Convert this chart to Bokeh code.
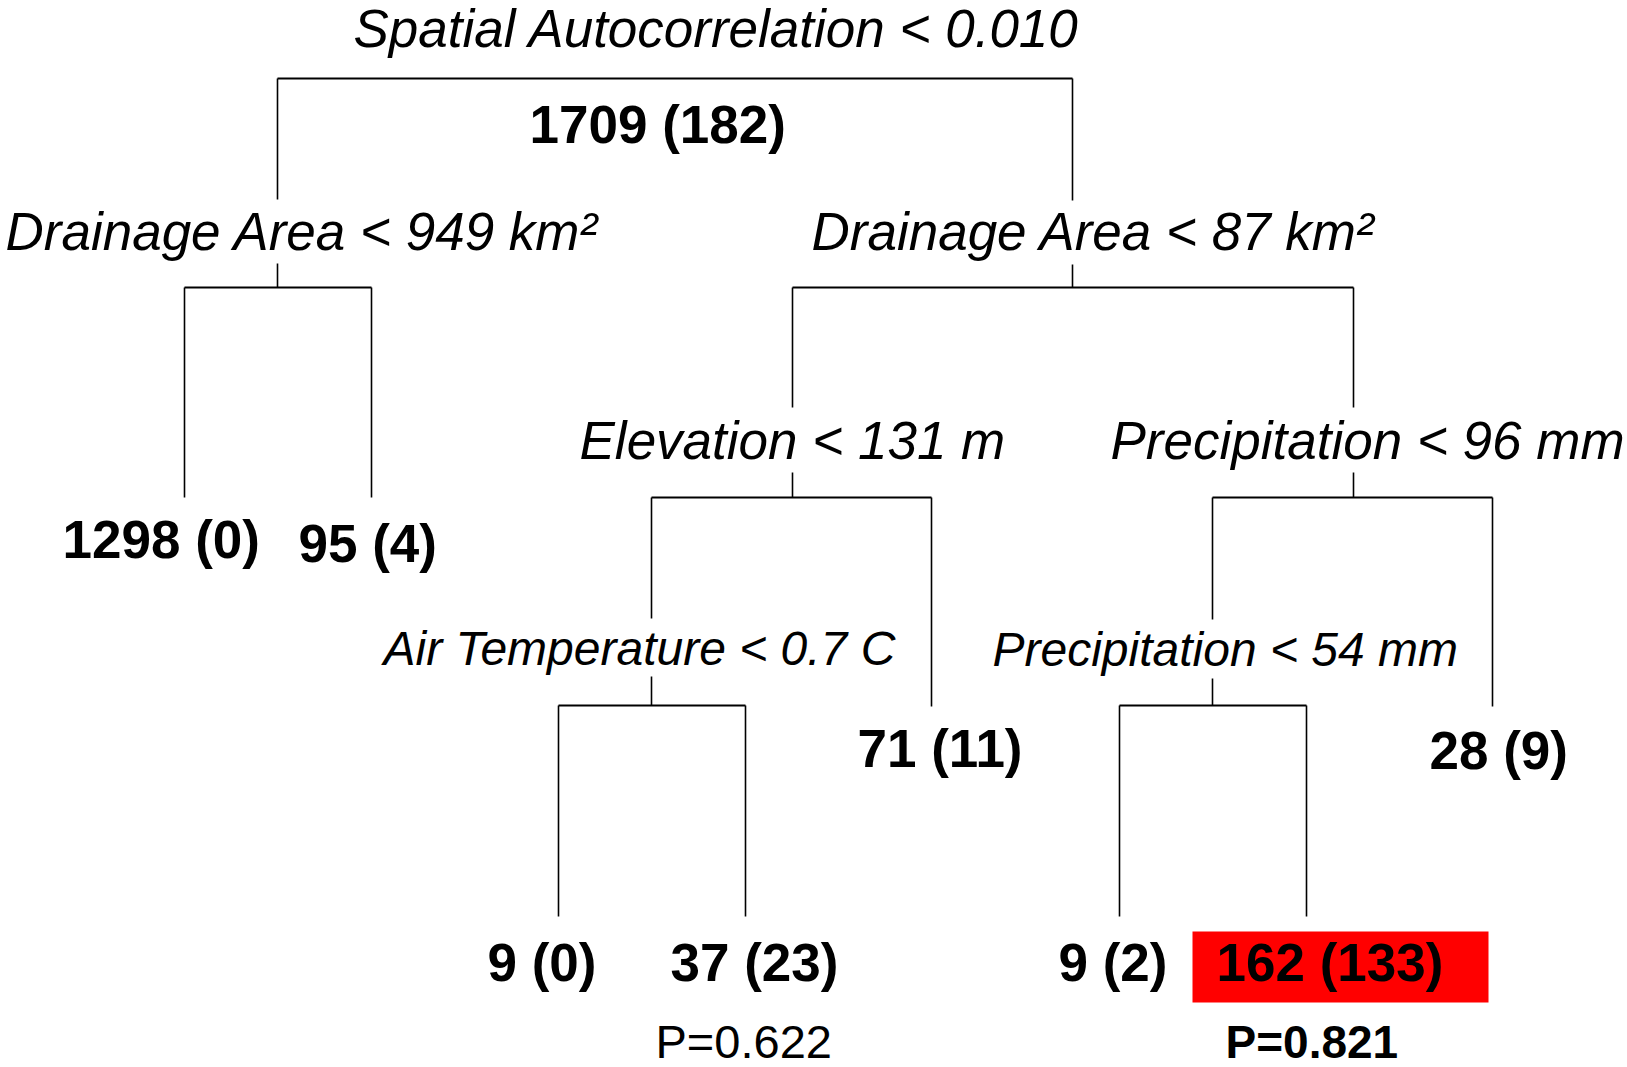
from bokeh.plotting import figure
from bokeh.models import Range1d
from bokeh.core.properties import value
from bokeh.embed import file_html
from bokeh.resources import INLINE

# ---------------- data ----------------
split_vars = ["Spatial Autocorrelation", "Drainage Area", "Drainage Area",
              "Elevation", "Precipitation", "Air Temperature", "Precipitation"]
split_thresholds = ["0.010", "949 km\u00b2", "87 km\u00b2", "131 m", "96 mm", "0.7 C", "54 mm"]
root_n = 1709
root_k = 182
leaf_n = [1298, 95, 9, 37, 71, 9, 162, 28]
leaf_k = [0, 4, 0, 23, 11, 2, 133, 9]
leaf_p = [None, None, None, "0.622", None, None, "0.821", None]
highlight_leaf = 6

# tree structure: children of each split, ("s", i) = split i, ("l", j) = leaf j
children = [(("s", 1), ("s", 2)),
            (("l", 0), ("l", 1)),
            (("s", 3), ("s", 4)),
            (("s", 5), ("l", 4)),
            (("s", 6), ("l", 7)),
            (("l", 2), ("l", 3)),
            (("l", 5), ("l", 6))]

# ---------------- layout (reference pixel space) ----------------
split_x = [650, 277, 1072, 792, 1353, 651, 1212]
split_hy = [78, 287, 287, 497, 497, 705, 705]
split_stub_top = [None, 263, 264, 472, 472, 676, 678]
split_line_end = [None, 199, 200, 407, 407, 618, 619]
leaf_x = [184, 371, 558, 745, 931, 1119, 1306, 1492]
leaf_line_end = [497, 497, 916, 916, 706, 916, 916, 706]

split_label_x = [353, 5, 811, 579, 1110, 383, 992]
split_label_y = [47, 250, 250, 459, 459, 665, 666]
split_label_px = [53, 53, 53, 53, 53, 48, 48]
root_label_xy = (529, 143)
leaf_label_x = [62, 298, 487, 670, 857, 1058, 1216, 1429]
leaf_label_y = [558, 562, 981, 981, 767, 981, 981, 769]
p_label_xy = {3: (655, 1058, "normal", 47), 6: (1225, 1058, "bold", 46)}
highlight_box = (1192, 1488, 931, 1002)

W, H = 1627, 1067
FONT = value("Liberation Sans")
BASE_SHIFT = 0.36  # correction of the rendered alphabetic baseline, in em


def fs(px):
    return "%dpx" % px


def by(y, px):
    return y - BASE_SHIFT * px


p = figure(width=W, height=H, x_range=Range1d(0, W), y_range=Range1d(H, 0),
           output_backend="svg", toolbar_location=None, min_border=0,
           x_axis_location=None, y_axis_location=None)
p.grid.visible = False
p.outline_line_color = None
p.background_fill_color = "white"
p.border_fill_color = "white"

# ---------------- lines ----------------
hx0, hx1, hy = [], [], []
vx, vy0, vy1 = [], [], []


def child_pos(c):
    kind, i = c
    if kind == "s":
        return split_x[i], split_line_end[i]
    return leaf_x[i], leaf_line_end[i]


for i, (lc, rc) in enumerate(children):
    (lx, lend), (rx, rend) = child_pos(lc), child_pos(rc)
    hx0.append(lx); hx1.append(rx); hy.append(split_hy[i])
    vx += [lx, rx]; vy0 += [split_hy[i], split_hy[i]]; vy1 += [lend, rend]
    if split_stub_top[i] is not None:
        vx.append(split_x[i]); vy0.append(split_stub_top[i]); vy1.append(split_hy[i])

p.segment(x0=vx, y0=vy0, x1=vx, y1=vy1, line_color="black", line_width=1.6)
p.segment(x0=hx0, y0=hy, x1=hx1, y1=hy, line_color="black", line_width=2.2)

# highlight box
l, r, t, b = highlight_box
p.quad(left=[l], right=[r], top=[t], bottom=[b], fill_color="#ff0000", line_color=None)

# ---------------- texts ----------------
for i in range(len(split_vars)):
    p.text(x=[split_label_x[i]], y=[by(split_label_y[i], split_label_px[i])],
           text=["%s < %s" % (split_vars[i], split_thresholds[i])],
           text_font=FONT, text_font_style="italic", text_font_size=fs(split_label_px[i]),
           text_align="left", text_baseline="alphabetic", text_color="black")

p.text(x=[root_label_xy[0]], y=[by(root_label_xy[1], 53)], text=["%d (%d)" % (root_n, root_k)],
       text_font=FONT, text_font_style="bold", text_font_size=fs(53),
       text_align="left", text_baseline="alphabetic", text_color="black")

p.text(x=leaf_label_x, y=[by(v, 53) for v in leaf_label_y],
       text=["%d (%d)" % (n, k) for n, k in zip(leaf_n, leaf_k)],
       text_font=FONT, text_font_style="bold", text_font_size=fs(53),
       text_align="left", text_baseline="alphabetic", text_color="black")

for j, pv in enumerate(leaf_p):
    if pv is None:
        continue
    x, y, style, size = p_label_xy[j]
    p.text(x=[x], y=[by(y, size)], text=["P=" + pv], text_font=FONT, text_font_style=style,
           text_font_size=fs(size), text_align="left", text_baseline="alphabetic",
           text_color="black")

open("out.html", "w").write(file_html(p, INLINE))
